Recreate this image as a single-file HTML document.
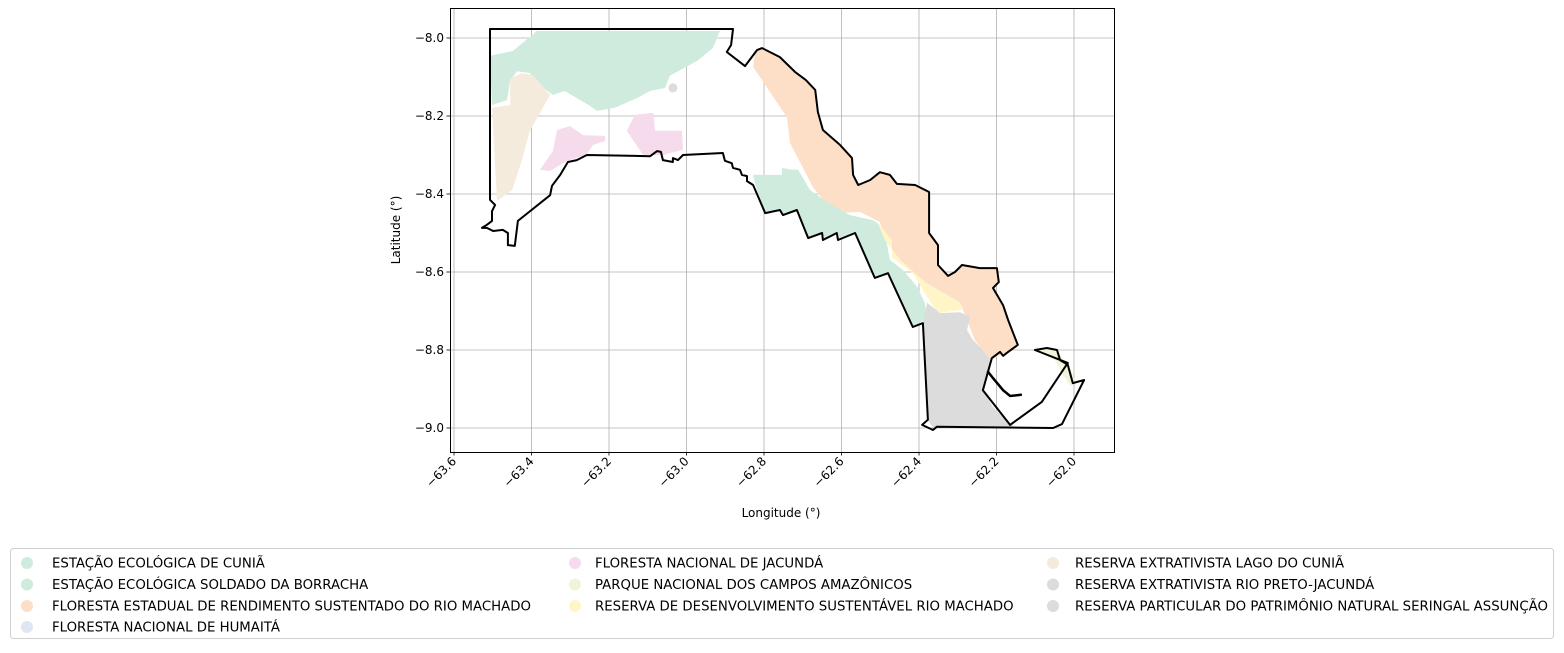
<!DOCTYPE html>
<html><head><meta charset="utf-8"><style>
body{margin:0;background:#fff;width:1564px;height:649px;overflow:hidden;font-family:"DejaVu Sans","Liberation Sans",sans-serif;}
svg text{font-family:"DejaVu Sans","Liberation Sans",sans-serif;}
</style></head><body>
<svg id="chart" width="1564" height="649" xmlns="http://www.w3.org/2000/svg">
<g id="grid"></g>
<g id="areas"></g>
<g id="outline"></g>
<rect x="450.5" y="8.5" width="664" height="444" fill="none" stroke="#000" stroke-width="1"/>
<g id="ticks"></g>
<text x="781" y="517" font-size="12" text-anchor="middle">Longitude (°)</text>
<text x="400" y="230" font-size="12" text-anchor="middle" transform="rotate(-90 400 230)">Latitude (°)</text>
<g id="legend"></g>
</svg>
<script>
const xTicks=[-63.6,-63.4,-63.2,-63.0,-62.8,-62.6,-62.4,-62.2,-62.0];
const yTicks=[-8.0,-8.2,-8.4,-8.6,-8.8,-9.0];
const categories=["ESTAÇÃO ECOLÓGICA DE CUNIÃ","ESTAÇÃO ECOLÓGICA SOLDADO DA BORRACHA","FLORESTA ESTADUAL DE RENDIMENTO SUSTENTADO DO RIO MACHADO","FLORESTA NACIONAL DE HUMAITÁ","FLORESTA NACIONAL DE JACUNDÁ","PARQUE NACIONAL DOS CAMPOS AMAZÔNICOS","RESERVA DE DESENVOLVIMENTO SUSTENTÁVEL RIO MACHADO","RESERVA EXTRATIVISTA LAGO DO CUNIÃ","RESERVA EXTRATIVISTA RIO PRETO-JACUNDÁ","RESERVA PARTICULAR DO PATRIMÔNIO NATURAL SERINGAL ASSUNÇÃO"];
const colors=["#cfebde","#cfebde","#fddfc8","#dfe6f1","#f5dbec","#eef5d9","#fff5c7","#f5ebdd","#dcdcdc","#dcdcdc"];
const cuniaPoly=[[-63.507,-8.046],[-63.448,-8.033],[-63.386,-7.982],[-62.914,-7.982],[-62.932,-8.026],[-62.973,-8.059],[-63.043,-8.097],[-63.055,-8.128],[-63.094,-8.136],[-63.128,-8.154],[-63.185,-8.179],[-63.231,-8.187],[-63.249,-8.174],[-63.314,-8.136],[-63.345,-8.146],[-63.378,-8.121],[-63.404,-8.090],[-63.437,-8.085],[-63.455,-8.108],[-63.463,-8.159],[-63.502,-8.172]];
const lagoPoly=[[-63.455,-8.103],[-63.425,-8.090],[-63.396,-8.095],[-63.352,-8.146],[-63.404,-8.238],[-63.425,-8.315],[-63.450,-8.390],[-63.489,-8.418],[-63.502,-8.179],[-63.455,-8.172]];
const jacunda1=[[-63.334,-8.236],[-63.301,-8.226],[-63.267,-8.249],[-63.210,-8.251],[-63.210,-8.264],[-63.241,-8.274],[-63.259,-8.300],[-63.308,-8.315],[-63.352,-8.341],[-63.378,-8.338],[-63.345,-8.290]];
const jacunda2=[[-63.133,-8.197],[-63.086,-8.192],[-63.081,-8.238],[-63.012,-8.238],[-63.009,-8.287],[-63.061,-8.300],[-63.112,-8.300],[-63.154,-8.238]];
const machadoPoly=[[-62.805,-8.026],[-62.759,-8.049],[-62.720,-8.087],[-62.692,-8.108],[-62.668,-8.133],[-62.661,-8.190],[-62.648,-8.236],[-62.604,-8.274],[-62.573,-8.308],[-62.570,-8.351],[-62.557,-8.377],[-62.526,-8.364],[-62.501,-8.344],[-62.475,-8.351],[-62.457,-8.374],[-62.410,-8.377],[-62.374,-8.395],[-62.374,-8.454],[-62.374,-8.500],[-62.351,-8.531],[-62.351,-8.582],[-62.325,-8.610],[-62.307,-8.600],[-62.289,-8.582],[-62.243,-8.590],[-62.199,-8.590],[-62.194,-8.626],[-62.209,-8.641],[-62.183,-8.685],[-62.170,-8.723],[-62.145,-8.787],[-62.170,-8.805],[-62.204,-8.818],[-62.217,-8.826],[-62.256,-8.774],[-62.276,-8.723],[-62.294,-8.679],[-62.385,-8.626],[-62.449,-8.569],[-62.488,-8.518],[-62.501,-8.472],[-62.552,-8.446],[-62.604,-8.449],[-62.648,-8.415],[-62.674,-8.382],[-62.733,-8.269],[-62.741,-8.203],[-62.828,-8.074],[-62.823,-8.036]];
const rdsPoly=[[-62.508,-8.472],[-62.488,-8.518],[-62.449,-8.569],[-62.385,-8.626],[-62.294,-8.679],[-62.289,-8.697],[-62.351,-8.705],[-62.379,-8.664],[-62.416,-8.603],[-62.470,-8.562],[-62.470,-8.518]];
const soldadoPoly=[[-62.828,-8.351],[-62.754,-8.351],[-62.754,-8.333],[-62.728,-8.338],[-62.712,-8.338],[-62.681,-8.390],[-62.637,-8.421],[-62.578,-8.454],[-62.519,-8.467],[-62.501,-8.479],[-62.483,-8.526],[-62.475,-8.569],[-62.441,-8.595],[-62.405,-8.638],[-62.385,-8.679],[-62.379,-8.718],[-62.416,-8.741],[-62.480,-8.603],[-62.514,-8.615],[-62.565,-8.500],[-62.609,-8.518],[-62.612,-8.500],[-62.648,-8.518],[-62.650,-8.500],[-62.686,-8.513],[-62.715,-8.441],[-62.751,-8.454],[-62.759,-8.441],[-62.797,-8.449],[-62.818,-8.390]];
const pretoPoly=[[-62.379,-8.679],[-62.346,-8.705],[-62.294,-8.703],[-62.268,-8.715],[-62.276,-8.749],[-62.261,-8.774],[-62.235,-8.800],[-62.217,-8.826],[-62.222,-8.859],[-62.235,-8.903],[-62.209,-8.946],[-62.165,-8.992],[-62.139,-9.000],[-62.364,-9.000],[-62.377,-8.979],[-62.390,-8.731]];
const camposPoly=[[-62.101,-8.800],[-62.062,-8.795],[-62.036,-8.813],[-62.016,-8.838],[-61.995,-8.882],[-62.008,-8.892],[-62.028,-8.864],[-62.049,-8.826]];
const rppnPoint=[-63.035,-8.128];
const outlineRing=[[-63.507,-7.977],[-62.880,-7.977],[-62.885,-8.018],[-62.896,-8.036],[-62.870,-8.056],[-62.849,-8.072],[-62.818,-8.031],[-62.805,-8.026],[-62.759,-8.049],[-62.720,-8.087],[-62.692,-8.108],[-62.668,-8.133],[-62.661,-8.190],[-62.648,-8.236],[-62.604,-8.274],[-62.573,-8.308],[-62.570,-8.351],[-62.557,-8.377],[-62.526,-8.364],[-62.501,-8.344],[-62.475,-8.351],[-62.457,-8.374],[-62.410,-8.377],[-62.374,-8.395],[-62.374,-8.454],[-62.374,-8.500],[-62.351,-8.531],[-62.351,-8.582],[-62.325,-8.610],[-62.307,-8.600],[-62.289,-8.582],[-62.243,-8.590],[-62.199,-8.590],[-62.194,-8.626],[-62.209,-8.641],[-62.183,-8.685],[-62.170,-8.723],[-62.145,-8.787],[-62.170,-8.805],[-62.183,-8.815],[-62.191,-8.805],[-62.212,-8.821],[-62.222,-8.856],[-62.235,-8.903],[-62.165,-8.992],[-62.083,-8.933],[-62.016,-8.833],[-62.101,-8.800],[-62.070,-8.795],[-62.044,-8.800],[-62.036,-8.826],[-62.016,-8.838],[-62.003,-8.885],[-61.974,-8.877],[-62.031,-8.990],[-62.054,-9.000],[-62.354,-8.997],[-62.364,-9.005],[-62.392,-8.992],[-62.377,-8.979],[-62.390,-8.731],[-62.416,-8.741],[-62.480,-8.603],[-62.514,-8.615],[-62.565,-8.500],[-62.609,-8.518],[-62.612,-8.500],[-62.648,-8.518],[-62.650,-8.500],[-62.686,-8.513],[-62.715,-8.441],[-62.751,-8.454],[-62.759,-8.441],[-62.797,-8.449],[-62.828,-8.377],[-62.844,-8.367],[-62.844,-8.354],[-62.857,-8.351],[-62.862,-8.338],[-62.880,-8.333],[-62.883,-8.321],[-62.901,-8.315],[-62.906,-8.295],[-63.009,-8.300],[-63.022,-8.313],[-63.035,-8.308],[-63.035,-8.318],[-63.061,-8.313],[-63.066,-8.292],[-63.076,-8.290],[-63.094,-8.303],[-63.257,-8.300],[-63.283,-8.313],[-63.306,-8.318],[-63.326,-8.351],[-63.347,-8.379],[-63.352,-8.403],[-63.435,-8.469],[-63.443,-8.533],[-63.461,-8.531],[-63.461,-8.500],[-63.474,-8.492],[-63.499,-8.495],[-63.515,-8.487],[-63.528,-8.487],[-63.515,-8.479],[-63.502,-8.469],[-63.502,-8.444],[-63.494,-8.428],[-63.507,-8.415]];
const hookLine=[[-62.222,-8.856],[-62.209,-8.872],[-62.183,-8.903],[-62.165,-8.918],[-62.137,-8.915]];

const NS="http://www.w3.org/2000/svg";
const X0=450,X1=1115,Y0=8,Y1=452;
function xs(lon){return 454+(lon+63.6)*387.5;}
function ys(lat){return 38+(-8-lat)*390;}
function pts(arr){return arr.map(p=>xs(p[0]).toFixed(1)+","+ys(p[1]).toFixed(1)).join(" ");}
function mk(tag,attrs,parent){const e=document.createElementNS(NS,tag);for(const k in attrs)e.setAttribute(k,attrs[k]);parent.appendChild(e);return e;}
const grid=document.getElementById('grid'),ticks=document.getElementById('ticks');
xTicks.forEach(v=>{const x=xs(v);
 const g=mk('line',{x1:x,x2:x,y1:Y0,y2:Y1,stroke:'#b0b0b0','stroke-width':0.8},grid);
 
 
 mk('line',{x1:x,x2:x,y1:Y1,y2:Y1+3.5,stroke:'#000','stroke-width':0.8},ticks);
 const t=mk('text',{x:x+3,y:Y1+10,'font-size':12,'text-anchor':'end',transform:`rotate(-45 ${x+3} ${Y1+10})`},ticks);
 t.textContent='\u2212'+Math.abs(v).toFixed(1);
 
 
});
yTicks.forEach(v=>{const y=ys(v);
 const g=mk('line',{x1:X0,x2:X1,y1:y,y2:y,stroke:'#b0b0b0','stroke-width':0.8},grid);
 
 
 mk('line',{x1:X0-3.5,x2:X0,y1:y,y2:y,stroke:'#000','stroke-width':0.8},ticks);
 const t=mk('text',{x:X0-6,y:y+4,'font-size':12,'text-anchor':'end'},ticks);
 t.textContent='\u2212'+Math.abs(v).toFixed(1);
 
 
});
const areas=document.getElementById('areas');
const polys=[[cuniaPoly,0,'area-cunia'],[lagoPoly,7,'area-lago-do-cunia'],[jacunda1,4,'area-jacunda-1'],[jacunda2,4,'area-jacunda-2'],[machadoPoly,2,'area-rio-machado'],[soldadoPoly,1,'area-soldado-da-borracha'],[rdsPoly,6,'area-rds-rio-machado'],[pretoPoly,8,'area-rio-preto-jacunda'],[camposPoly,5,'area-campos-amazonicos']];
polys.forEach(p=>{const e=mk('polygon',{points:pts(p[0]),fill:colors[p[1]],stroke:'none'},areas);
 
 });
const dot=mk('circle',{cx:xs(rppnPoint[0]),cy:ys(rppnPoint[1]),r:4.5,fill:colors[9]},areas);


const ol=document.getElementById('outline');
const ring=mk('polygon',{points:pts(outlineRing),fill:'none',stroke:'#000','stroke-width':2,'stroke-linejoin':'round'},ol);


const hk=mk('polyline',{points:pts(hookLine),fill:'none',stroke:'#000','stroke-width':2.5,'stroke-linecap':'round'},ol);


const lg=document.getElementById('legend');
const box=mk('rect',{x:10.5,y:548.5,width:1543,height:90,rx:3,fill:'#fff',stroke:'#d0d0d0'},lg);


const colX=[27,575,1053],textX=[52,595,1075],rowY=[563,584.5,606,627];
const perCol=[4,3,3];let idx=0;
perCol.forEach((n,c)=>{for(let r=0;r<n;r++){const i=idx++;
 const m=mk('circle',{cx:colX[c],cy:rowY[r],r:6,fill:colors[i]},lg);
 
 
 const t=mk('text',{x:textX[c],y:rowY[r]+4.5,'font-size':13.3},lg);
 t.textContent=categories[i];
 
 }});
</script>
</body></html>
